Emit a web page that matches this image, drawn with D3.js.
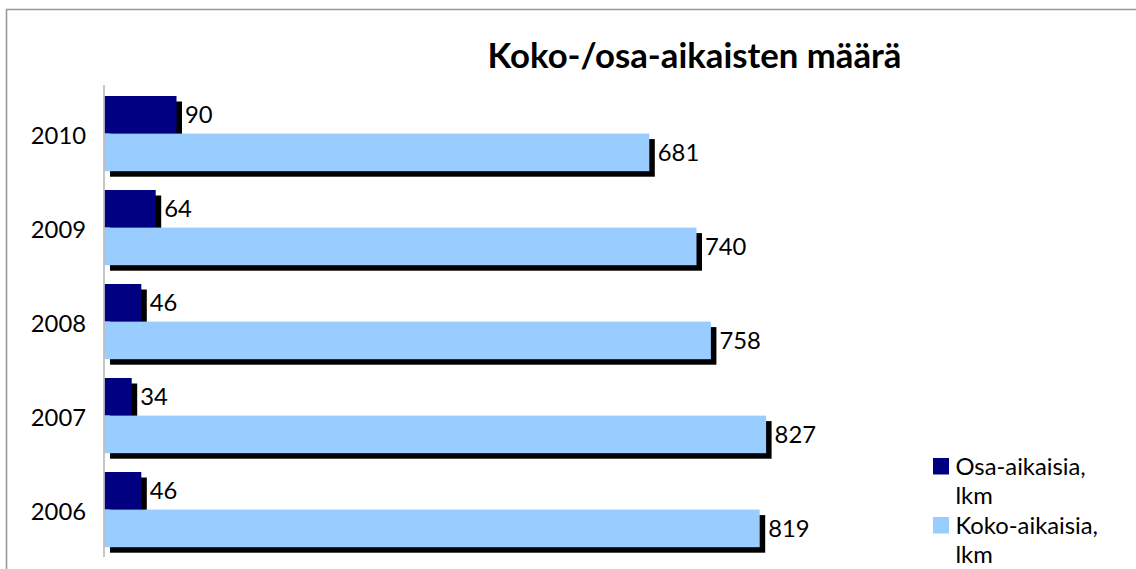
<!DOCTYPE html>
<html>
<head>
<meta charset="utf-8">
<script src="https://cdn.jsdelivr.net/npm/d3@7"></script>
<style>
  html, body { margin: 0; padding: 0; background: #fff; }
  svg { display: block; }
  text { font-family: Lato, "Open Sans", "Liberation Sans", sans-serif; fill: #000; }
</style>
</head>
<body>
<svg id="chart" width="1136" height="569"></svg>
<script>
// ---- data ----
const years = ["2010", "2009", "2008", "2007", "2006"];
const osaAikaisia = [90, 64, 46, 34, 46];
const kokoAikaisia = [681, 740, 758, 827, 819];
const seriesNames = ["Osa-aikaisia, lkm", "Koko-aikaisia, lkm"];
const seriesKeys = ["osa", "koko"];
const titleText = "Koko-/osa-aikaisten määrä";

// ---- build ----
const colors = { osa: "#000080", koko: "#99CCFF" };
const rows = years.map((y, i) => ({ year: y, osa: osaAikaisia[i], koko: kokoAikaisia[i] }));
const fs = 23.8;

const svg = d3.select("#chart");

// chart area border (left and top visible)
svg.append("path")
  .attr("d", "M6.5,575 L6.5,9.5 L1140,9.5")
  .attr("fill", "none")
  .attr("stroke", "#999")
  .attr("stroke-width", 1.6);

const x = d3.scaleLinear().domain([0, 1000]).range([104.5, 904.5]);
const y = d3.scaleBand().domain(years).range([86.6, 556.6]).paddingInner(0.2).paddingOuter(0.1);
const ys = d3.scaleBand().domain(seriesKeys).range([0, y.bandwidth()]);

const off = 5.5;
const g = svg.append("g");

// shadows first
seriesKeys.forEach(k => {
  g.selectAll(".sh-" + k).data(rows).enter().append("rect")
    .attr("x", x(0) + off)
    .attr("y", d => y(d.year) + ys(k) + off)
    .attr("width", d => x(d[k]) - x(0))
    .attr("height", ys.bandwidth())
    .attr("fill", "#000");
});
// bars
seriesKeys.forEach(k => {
  g.selectAll(".bar-" + k).data(rows).enter().append("rect")
    .attr("x", x(0))
    .attr("y", d => y(d.year) + ys(k))
    .attr("width", d => x(d[k]) - x(0))
    .attr("height", ys.bandwidth())
    .attr("fill", colors[k]);
});
// data labels
seriesKeys.forEach(k => {
  g.selectAll(".lab-" + k).data(rows).enter().append("text")
    .attr("x", d => x(d[k]) + off + 3)
    .attr("y", d => y(d.year) + ys(k) + ys.bandwidth() / 2)
    .attr("dy", "0.36em")
    .attr("font-size", fs)
    .text(d => d[k]);
});

// category axis
const axis = svg.append("g").attr("transform", "translate(104,0)")
  .call(d3.axisLeft(y).tickSize(0).tickPadding(18));
axis.select(".domain").attr("stroke", "#b3b3b3").attr("stroke-width", 1.5)
  .attr("d", "M0,85V557");
axis.selectAll("text")
  .attr("font-size", fs)
  .attr("font-family", "Lato, 'Open Sans', sans-serif")
  .attr("dy", "0.42em")
  .attr("fill", "#000");

// title
const title = svg.append("text")
  .attr("x", 694.5).attr("y", 67.5)
  .attr("text-anchor", "middle")
  .attr("font-weight", "bold")
  .attr("font-size", 33)
  .text(titleText);
const tw = title.node().getComputedTextLength();
if (tw > 0) title.attr("font-size", 33 * 414 / tw);

// legend
const legend = svg.append("g");
const legY = [458, 517];
seriesKeys.forEach((k, i) => {
  legend.append("rect")
    .attr("x", 933).attr("y", legY[i])
    .attr("width", 16).attr("height", 16.5)
    .attr("fill", colors[k]);
  const parts = seriesNames[i].split(" ");
  const t = legend.append("text")
    .attr("x", 955.5).attr("y", legY[i] + 16.5)
    .attr("font-size", fs);
  parts.forEach((p, j) => {
    t.append("tspan").attr("x", 955.5).attr("dy", j === 0 ? 0 : 29.7).text(p);
  });
});
</script>
</body>
</html>
